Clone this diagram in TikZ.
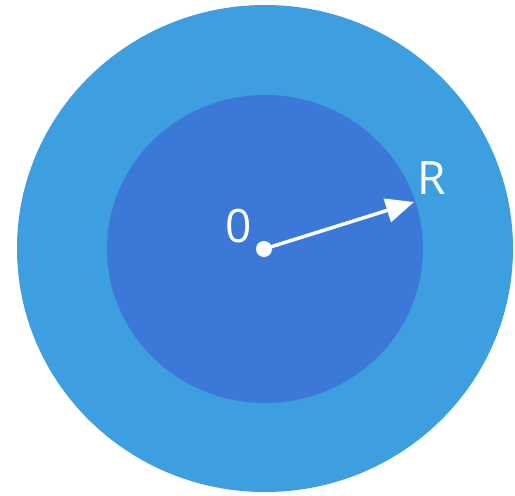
\documentclass[tikz,border=0pt]{standalone}
\usepackage{fontspec}
\setmainfont{Open Sans}
\usetikzlibrary{arrows.meta, positioning}
\definecolor{outerblue}{RGB}{61, 159, 224}
\definecolor{innerblue}{RGB}{59, 120, 216}
\begin{document}
\begin{tikzpicture}[
  x=1pt, y=-1pt,
  disc/.style={draw=none},
  centre/.style={circle, fill=white, inner sep=0pt, minimum size=16pt},
  label/.style={text=white, font=\fontsize{46}{52}\selectfont, inner sep=0pt},
  radius arrow/.style={-{Triangle[length=28pt, width=24pt]}, line width=3.5pt, white, shorten <=-1pt}
]
  \useasboundingbox (0,0) rectangle (515,496);

  % Discs
  \fill[disc, outerblue] (265,248.5) ellipse [x radius=248, y radius=243.5];
  \fill[disc, innerblue] (265,249) ellipse [x radius=158, y radius=154];

  % Centre and radius
  \node[centre] (o) at (264,249) {};
  \coordinate (r) at (414,202);
  \draw[radius arrow] (o.center) -- (r);

  % Labels
  \node[label] (zero) at (239,226) {0};
  \node[label] (rlabel) at (432,178) {R};
\end{tikzpicture}
\end{document}
